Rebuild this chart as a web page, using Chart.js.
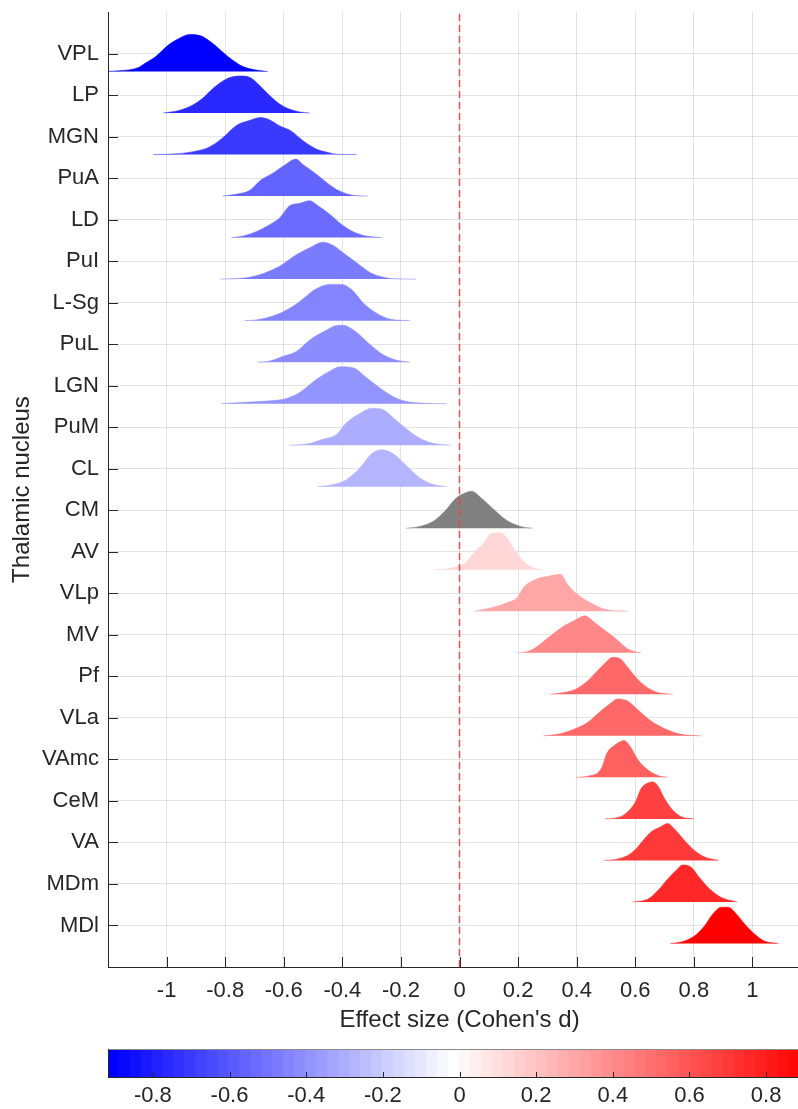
<!DOCTYPE html>
<html>
<head>
<meta charset="utf-8">
<script src="https://cdn.jsdelivr.net/npm/chart.js@4.4.1/dist/chart.umd.min.js"></script>
<style>
  html, body { margin: 0; padding: 0; background: #ffffff; overflow: hidden; }
  #wrap { position: relative; width: 798px; height: 1109px; overflow: hidden; background: #ffffff; }
  #main { position: absolute; left: 0; top: 0; }
  #cbar { position: absolute; left: 0; top: 1040px; }
</style>
</head>
<body>
<div id="wrap">
  <canvas id="main" width="812" height="1040"></canvas>
  <canvas id="cbar" width="812" height="69"></canvas>
</div>
<script>
// ---------------- DATA ----------------
const nuclei = ['VPL','LP','MGN','PuA','LD','PuI','L-Sg','PuL','LGN','PuM','CL','CM','AV','VLp','MV','Pf','VLa','VAmc','CeM','VA','MDm','MDl'];
const meanEffect = [-0.91,-0.75,-0.69,-0.56,-0.52,-0.47,-0.43,-0.41,-0.40,-0.29,-0.27,0.03,0.12,0.31,0.42,0.52,0.54,0.55,0.66,0.70,0.77,0.90];
const notSignificant = ['CM'];
const xTickValues = [-1,-0.8,-0.6,-0.4,-0.2,0,0.2,0.4,0.6,0.8,1];
const cbarTickValues = [-0.8,-0.6,-0.4,-0.2,0,0.2,0.4,0.6,0.8];
const cbarLimits = [-0.917, 0.917];
const xLimits = [-1.2, 1.2];

// distributions: [effect size, relative density]
const dVPL  = [[-1.21,0],[-1.163,0.02],[-1.095,0.11],[-1.078,0.2],[-1.038,0.4],[-0.992,0.73],[-0.958,0.89],[-0.923,1.0],[-0.889,0.98],[-0.849,0.8],[-0.803,0.49],[-0.775,0.31],[-0.741,0.14],[-0.695,0.04],[-0.655,0]];
const dLP   = [[-1.011,0],[-0.958,0.07],[-0.912,0.21],[-0.878,0.39],[-0.838,0.69],[-0.803,0.89],[-0.775,0.98],[-0.741,1.0],[-0.712,0.95],[-0.683,0.75],[-0.649,0.48],[-0.615,0.25],[-0.579,0.10],[-0.546,0.03],[-0.512,0]];
const dMGN  = [[-1.046,0],[-0.963,0.02],[-0.901,0.09],[-0.855,0.2],[-0.809,0.45],[-0.763,0.78],[-0.718,0.92],[-0.678,1.0],[-0.649,0.94],[-0.615,0.78],[-0.575,0.64],[-0.535,0.38],[-0.489,0.15],[-0.443,0.045],[-0.415,0.005],[-0.352,0]];
const dPuA  = [[-0.808,0],[-0.762,0.05],[-0.717,0.15],[-0.677,0.44],[-0.637,0.62],[-0.591,0.87],[-0.559,1.0],[-0.534,0.85],[-0.5,0.66],[-0.454,0.37],[-0.42,0.18],[-0.38,0.05],[-0.351,0.01],[-0.314,0]];
const dLD   = [[-0.779,0],[-0.739,0.04],[-0.694,0.16],[-0.648,0.35],[-0.614,0.53],[-0.58,0.86],[-0.545,0.93],[-0.511,1.0],[-0.483,0.86],[-0.443,0.63],[-0.408,0.39],[-0.363,0.16],[-0.317,0.04],[-0.266,0]];
const dPuI  = [[-0.816,0],[-0.734,0.03],[-0.682,0.12],[-0.614,0.35],[-0.557,0.66],[-0.511,0.85],[-0.466,1.0],[-0.431,0.91],[-0.397,0.71],[-0.351,0.44],[-0.306,0.18],[-0.26,0.05],[-0.226,0.01],[-0.149,0]];
const dLSg  = [[-0.734,0],[-0.694,0.02],[-0.625,0.16],[-0.568,0.39],[-0.523,0.66],[-0.494,0.84],[-0.443,0.98],[-0.403,0.98],[-0.368,0.84],[-0.329,0.48],[-0.283,0.2],[-0.237,0.04],[-0.169,0]];
const dPuL  = [[-0.69,0],[-0.648,0.03],[-0.602,0.16],[-0.557,0.29],[-0.511,0.6],[-0.46,0.84],[-0.426,0.98],[-0.397,1.0],[-0.357,0.84],[-0.306,0.48],[-0.26,0.2],[-0.214,0.05],[-0.169,0]];
const dLGN  = [[-0.814,0],[-0.745,0.03],[-0.66,0.07],[-0.591,0.14],[-0.546,0.3],[-0.488,0.66],[-0.443,0.88],[-0.408,1.0],[-0.363,0.97],[-0.317,0.7],[-0.266,0.39],[-0.214,0.14],[-0.157,0.03],[-0.043,0]];
const dPuM  = [[-0.582,0],[-0.523,0.03],[-0.466,0.16],[-0.42,0.29],[-0.386,0.61],[-0.34,0.86],[-0.3,1.0],[-0.26,0.96],[-0.226,0.74],[-0.18,0.43],[-0.134,0.18],[-0.089,0.05],[-0.029,0]];
const dCL   = [[-0.486,0],[-0.431,0.06],[-0.386,0.19],[-0.34,0.51],[-0.3,0.89],[-0.266,1.0],[-0.226,0.89],[-0.18,0.56],[-0.134,0.23],[-0.089,0.06],[-0.043,0]];
const dCM   = [[-0.181,0],[-0.135,0.05],[-0.089,0.19],[-0.049,0.47],[-0.015,0.79],[0.008,0.91],[0.042,1.0],[0.071,0.84],[0.117,0.51],[0.162,0.21],[0.208,0.05],[0.248,0]];
const dAV   = [[-0.086,0],[-0.032,0.04],[0.019,0.18],[0.054,0.5],[0.088,0.77],[0.105,0.97],[0.139,1.0],[0.162,0.86],[0.191,0.5],[0.225,0.18],[0.254,0.05],[0.288,0]];
const dVLp  = [[0.05,0],[0.105,0.09],[0.162,0.23],[0.197,0.37],[0.219,0.65],[0.265,0.88],[0.299,0.94],[0.345,1.0],[0.368,0.74],[0.402,0.46],[0.448,0.23],[0.494,0.06],[0.574,0]];
const dMV   = [[0.2,0],[0.23,0.03],[0.254,0.11],[0.311,0.46],[0.357,0.73],[0.391,0.87],[0.429,1.0],[0.454,0.87],[0.482,0.69],[0.528,0.42],[0.574,0.11],[0.6,0.03],[0.62,0]];
const dPf   = [[0.309,0],[0.357,0.05],[0.397,0.14],[0.437,0.36],[0.471,0.64],[0.499,0.86],[0.522,1.0],[0.551,0.95],[0.574,0.73],[0.608,0.41],[0.642,0.18],[0.677,0.05],[0.728,0]];
const dVLa  = [[0.286,0],[0.334,0.04],[0.391,0.18],[0.437,0.36],[0.482,0.67],[0.517,0.89],[0.539,1.0],[0.574,0.94],[0.608,0.71],[0.654,0.4],[0.699,0.2],[0.757,0.04],[0.823,0]];
const dVAmc = [[0.397,0],[0.437,0.03],[0.482,0.21],[0.505,0.68],[0.528,0.86],[0.562,1.0],[0.585,0.81],[0.608,0.49],[0.642,0.21],[0.677,0.05],[0.711,0]];
const dCeM  = [[0.496,0],[0.53,0.02],[0.56,0.1],[0.6,0.45],[0.62,0.82],[0.637,0.95],[0.66,1.0],[0.677,0.9],[0.7,0.55],[0.73,0.22],[0.76,0.05],[0.8,0]];
const dVA   = [[0.494,0],[0.528,0.02],[0.574,0.13],[0.602,0.31],[0.631,0.58],[0.659,0.8],[0.682,0.89],[0.711,1.0],[0.734,0.85],[0.768,0.54],[0.802,0.27],[0.837,0.09],[0.885,0]];
const dMDm  = [[0.593,0],[0.642,0.07],[0.682,0.35],[0.711,0.62],[0.739,0.85],[0.762,1.0],[0.791,0.94],[0.819,0.66],[0.854,0.35],[0.894,0.12],[0.947,0]];
const dMDl  = [[0.72,0],[0.757,0.04],[0.802,0.2],[0.837,0.48],[0.865,0.8],[0.894,0.98],[0.917,0.98],[0.945,0.8],[0.974,0.52],[1.008,0.25],[1.042,0.06],[1.088,0]];
const distributions = [dVPL,dLP,dMGN,dPuA,dLD,dPuI,dLSg,dPuL,dLGN,dPuM,dCL,dCM,dAV,dVLp,dMV,dPf,dVLa,dVAmc,dCeM,dVA,dMDm,dMDl];

// ---------------- STYLE ----------------
const FONT = "'Liberation Sans', Arial, Helvetica, sans-serif";
const TXT = '#262626';
const GRID = 'rgba(38,38,38,0.13)';
const N_BANDS = 64;
const BASE_OFFSET = 0.433;   // baseline below the row tick (row units)
const PEAK_HEIGHT = 0.89;    // peak height (row units)

function bandRGB(i) {
  if (i < N_BANDS / 2) { const t = Math.round(255 * i / (N_BANDS / 2 - 1)); return [t, t, 255]; }
  const s = Math.round(255 * (1 - (i - (N_BANDS / 2 - 1)) / (N_BANDS / 2))); return [255, s, s];
}
function bandIndex(v) {
  const f = (v - cbarLimits[0]) / (cbarLimits[1] - cbarLimits[0]);
  return Math.min(N_BANDS - 1, Math.max(0, Math.floor(f * N_BANDS)));
}
const rgb = (c, a) => a === undefined ? `rgb(${c[0]},${c[1]},${c[2]})` : `rgba(${c[0]},${c[1]},${c[2]},${a})`;
const fmt = v => String(Math.round(v * 10) / 10);
const noPad = s => { s.paddingTop = 0; s.paddingBottom = 0; s.paddingLeft = 0; s.paddingRight = 0; };

const inwardTicks = {
  id: 'inwardTicks',
  afterDraw(chart, args, o) {
    const { ctx, chartArea: a, scales } = chart;
    ctx.save();
    ctx.strokeStyle = o.color; ctx.lineWidth = 1;
    if (o.x) {
      const s = scales[o.x];
      s.ticks.forEach(t => {
        const p = Math.round(s.getPixelForValue(t.value)) + 0.5;
        ctx.beginPath(); ctx.moveTo(p, a.bottom); ctx.lineTo(p, a.bottom - o.len); ctx.stroke();
      });
    }
    if (o.y) {
      const s = scales[o.y];
      s.ticks.forEach(t => {
        const p = Math.round(s.getPixelForValue(t.value)) + 0.5;
        ctx.beginPath(); ctx.moveTo(a.left, p); ctx.lineTo(a.left + o.len, p); ctx.stroke();
      });
    }
    if (o.box) {
      ctx.strokeStyle = o.boxTop;
      ctx.beginPath(); ctx.moveTo(a.left, a.top + 0.5); ctx.lineTo(a.right, a.top + 0.5); ctx.stroke();
      ctx.strokeStyle = o.color;
      ctx.beginPath(); ctx.moveTo(a.left, a.bottom - 0.5); ctx.lineTo(a.right, a.bottom - 0.5); ctx.stroke();
      ctx.beginPath(); ctx.moveTo(a.left + 0.5, a.top); ctx.lineTo(a.left + 0.5, a.bottom); ctx.stroke();
    }
    ctx.restore();
  }
};

// ---------------- MAIN CHART ----------------
const nRows = nuclei.length;
const datasets = distributions.map((d, i) => {
  const pos = nRows - i;
  const base = pos - BASE_OFFSET;
  const col = notSignificant.includes(nuclei[i]) ? [128, 128, 128] : bandRGB(bandIndex(meanEffect[i]));
  return {
    label: nuclei[i],
    data: d.map(([x, h]) => ({ x: x, y: base + h * PEAK_HEIGHT })),
    fill: { value: base },
    backgroundColor: rgb(col),
    borderColor: rgb(col, 0.55),
    borderWidth: 1,
    pointRadius: 0,
    cubicInterpolationMode: 'monotone',
    order: 1
  };
});
datasets.unshift({
  label: 'zero',
  data: [{ x: 0, y: 0 }, { x: 0, y: nRows + 1 }],
  borderColor: 'rgba(238,62,62,0.9)',
  borderDash: [7, 4],
  borderWidth: 1.5,
  pointRadius: 0,
  fill: false,
  order: 0
});

new Chart(document.getElementById('main'), {
  type: 'line',
  data: { datasets },
  plugins: [inwardTicks],
  options: {
    responsive: false,
    animation: false,
    events: [],
    layout: { padding: { top: 12, right: 1, left: 0, bottom: 0 } },
    plugins: {
      legend: { display: false },
      tooltip: { enabled: false },
      inwardTicks: { x: 'x', y: 'y', len: 10, color: TXT }
    },
    scales: {
      x: {
        type: 'linear', min: xLimits[0], max: xLimits[1], offset: false,
        afterBuildTicks: s => { s.ticks = xTickValues.map(v => ({ value: v })); },
        afterFit: s => { s.height = 1040 - 967; noPad(s); },
        ticks: { callback: v => fmt(v), font: { family: FONT, size: 22 }, color: TXT, padding: 11, maxRotation: 0, autoSkip: false },
        grid: { color: GRID, lineWidth: 1, drawTicks: false },
        border: { display: true, color: TXT, width: 1 },
        title: { display: true, text: "Effect size (Cohen's d)", font: { family: FONT, size: 24 }, color: TXT, padding: { top: 0, bottom: 5 } }
      },
      y: {
        type: 'linear', min: 0, max: nRows + 1, offset: false,
        afterBuildTicks: s => { s.ticks = nuclei.map((_, i) => ({ value: nRows - i })); },
        afterFit: s => { s.width = 108; noPad(s); },
        ticks: { callback: v => nuclei[nRows - v], font: { family: FONT, size: 22 }, color: TXT, padding: 9, autoSkip: false },
        grid: { color: GRID, lineWidth: 1, drawTicks: false },
        border: { display: true, color: TXT, width: 1 },
        title: { display: true, text: 'Thalamic nucleus', font: { family: FONT, size: 24 }, color: TXT, padding: { top: 8, bottom: 0 } }
      }
    }
  }
});

// ---------------- COLORBAR ----------------
const bands = Array.from({ length: N_BANDS }, (_, i) => i);
new Chart(document.getElementById('cbar'), {
  type: 'bar',
  data: {
    labels: bands,
    datasets: [{
      data: bands.map(() => 1),
      backgroundColor: bands.map(i => rgb(bandRGB(i))),
      borderWidth: 0,
      barPercentage: 1,
      categoryPercentage: 1,
      inflateAmount: 0.5,
      xAxisID: 'x', yAxisID: 'y'
    }]
  },
  plugins: [inwardTicks],
  options: {
    responsive: false,
    animation: false,
    events: [],
    layout: { padding: { top: 9, left: 108, right: 1, bottom: 0 } },
    plugins: {
      legend: { display: false },
      tooltip: { enabled: false },
      inwardTicks: { x: 'x2', len: 6, color: TXT, box: true, boxTop: '#8a8a8a' }
    },
    scales: {
      x: { type: 'category', display: false, offset: true },
      y: { display: false, min: 0, max: 1 },
      x2: {
        type: 'linear', position: 'bottom', min: cbarLimits[0], max: cbarLimits[1], offset: false,
        afterBuildTicks: s => { s.ticks = cbarTickValues.map(v => ({ value: v })); },
        afterFit: s => { s.height = 31; noPad(s); },
        ticks: { callback: v => fmt(v), font: { family: FONT, size: 22 }, color: TXT, padding: 5, maxRotation: 0, autoSkip: false },
        grid: { display: false, drawTicks: false, offset: false },
        border: { display: false }
      }
    }
  }
});
</script>
</body>
</html>
